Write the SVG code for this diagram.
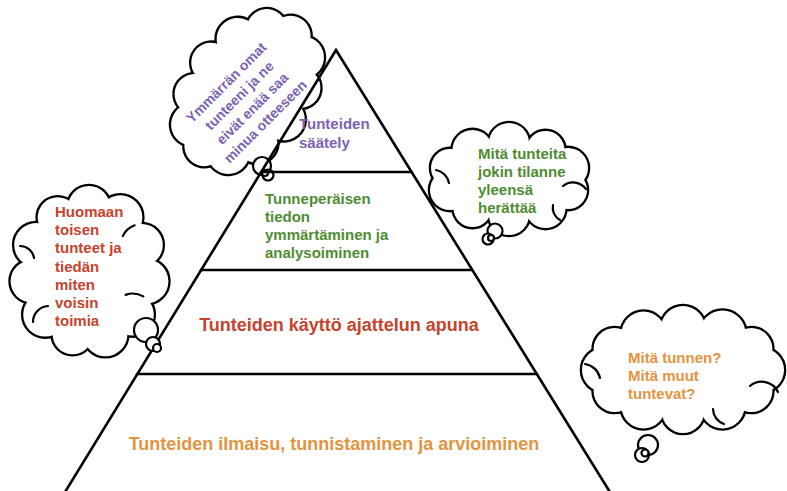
<svg xmlns="http://www.w3.org/2000/svg" width="787" height="491" viewBox="0 0 787 491">
<style>
.ol{fill:#fff;stroke:#000;stroke-width:4.6}
.fl{fill:#fff;stroke:none}
.ln{fill:none;stroke:#000;stroke-width:2.6;stroke-linecap:round}
.cu{fill:none;stroke:#000;stroke-width:2.2;stroke-linecap:round}
.tb{fill:#fff;stroke:#000;stroke-width:2.2}
text{font-family:"Liberation Sans",Arial,sans-serif;font-weight:bold}
.t15{font-size:15px}
.t14{font-size:14px}
.t18{font-size:18px}
.pu{fill:#7a63b3}
.gr{fill:#4e8c32}
.rd{fill:#c6432d}
.or{fill:#e4943f}
</style>
<defs>
<g id="c-left">
<circle cx="89" cy="207" r="21"/><circle cx="120.3" cy="217.3" r="22"/><circle cx="141.8" cy="245" r="21"/><circle cx="146.4" cy="281.3" r="22"/><circle cx="132.8" cy="314.6" r="21"/><circle cx="105.4" cy="334.3" r="22"/><circle cx="72.6" cy="334.3" r="20"/><circle cx="45.2" cy="314.6" r="22"/><circle cx="31.6" cy="281.3" r="21"/><circle cx="36.2" cy="245" r="22"/><circle cx="57.7" cy="217.3" r="20"/>
</g>
<g id="c-green">
<circle cx="509" cy="143" r="20"/><circle cx="545.5" cy="149.9" r="19"/><circle cx="568" cy="167.9" r="20"/><circle cx="568" cy="190.1" r="19"/><circle cx="545.5" cy="208.1" r="20"/><circle cx="509" cy="215" r="20"/><circle cx="472.5" cy="208.1" r="19"/><circle cx="450" cy="190.1" r="20"/><circle cx="450" cy="167.9" r="19"/><circle cx="472.5" cy="149.9" r="20"/>
</g>
<g id="c-orange">
<circle cx="683" cy="328" r="22"/><circle cx="722.5" cy="333.6" r="23"/><circle cx="751.4" cy="349" r="21"/><circle cx="762" cy="370" r="22"/><circle cx="751.4" cy="391" r="21"/><circle cx="722.5" cy="406.4" r="22"/><circle cx="683" cy="412" r="21"/><circle cx="643.5" cy="406.4" r="22"/><circle cx="614.6" cy="391" r="21"/><circle cx="604" cy="370" r="22"/><circle cx="614.6" cy="349" r="21"/><circle cx="643.5" cy="333.6" r="22"/>
</g>
<g id="c-purple">
<circle cx="0" cy="-46" r="20"/><circle cx="35" cy="-39.8" r="21"/><circle cx="60.6" cy="-23" r="20"/><circle cx="70" cy="0" r="20"/><circle cx="60.6" cy="23" r="21"/><circle cx="35" cy="39.8" r="20"/><circle cx="0" cy="46" r="21"/><circle cx="-35" cy="39.8" r="20"/><circle cx="-60.6" cy="23" r="21"/><circle cx="-70" cy="0" r="20"/><circle cx="-60.6" cy="-23" r="21"/><circle cx="-35" cy="-39.8" r="20"/>
</g>
</defs>

<g id="cloud-purple">
<g transform="translate(247.5,91) rotate(-52)">
<use href="#c-purple" class="ol"/>
<use href="#c-purple" class="fl"/>
<polygon class="fl" points="0,-46 35,-39.8 60.6,-23 70,0 60.6,23 35,39.8 0,46 -35,39.8 -60.6,23 -70,0 -60.6,-23 -35,-39.8"/>
</g>
<circle class="tb" cx="262" cy="166" r="9"/>
<circle class="tb" cx="268" cy="175" r="5.5"/>
<circle class="tb" cx="265" cy="173" r="3"/>
<g transform="translate(245,97) rotate(-45)" text-anchor="middle">
<text class="t14 pu" x="-3" y="-18.6">Ymmärrän omat</text>
<text class="t14 pu" x="-3" y="-0.2">tunteeni ja ne</text>
<text class="t14 pu" x="-3" y="18.2">eivät enää saa</text>
<text class="t14 pu" x="-3" y="36.6">minua otteeseen</text>
</g>
</g>

<g id="pyramid">
<polygon points="62,497 336,50 613,497" fill="none" stroke="#000" stroke-width="2.6" stroke-linejoin="miter"/>
<line class="ln" x1="261" y1="172" x2="411.5" y2="172"/>
<line class="ln" x1="201" y1="270" x2="472" y2="270"/>
<line class="ln" x1="137" y1="374" x2="537" y2="374"/>
</g>

<g id="level-4">
<text class="t15 pu" x="299" y="129">Tunteiden</text>
<text class="t15 pu" x="299" y="148">säätely</text>
</g>
<g id="level-3">
<text class="t15 gr" x="265" y="203.5">Tunneperäisen</text>
<text class="t15 gr" x="265" y="221.8">tiedon</text>
<text class="t15 gr" x="265" y="240.1">ymmärtäminen ja</text>
<text class="t15 gr" x="265" y="258.4">analysoiminen</text>
</g>
<g id="level-2">
<text class="t18 rd" x="339" y="331" text-anchor="middle">Tunteiden käyttö ajattelun apuna</text>
</g>
<g id="level-1">
<text class="t18 or" x="334" y="450" text-anchor="middle">Tunteiden ilmaisu, tunnistaminen ja arvioiminen</text>
</g>

<g id="cloud-left">
<use href="#c-left" class="ol"/>
<use href="#c-left" class="fl"/>
<polygon class="fl" points="89,207 120.3,217.3 141.8,245 146.4,281.3 132.8,314.6 105.4,334.3 72.6,334.3 45.2,314.6 31.6,281.3 36.2,245 57.7,217.3"/>
<path class="cu" d="M134.6,225.3 A21,21 0 0 0 122.8,236.1"/>
<path class="cu" d="M143.3,296.4 A21,21 0 0 0 125.6,294.9"/>
<path class="cu" d="M33,322 A16,16 0 0 1 48,306"/>
<path class="cu" d="M20,246 A14,14 0 0 1 34,258"/>
<circle class="tb" cx="146" cy="330" r="12"/>
<circle class="tb" cx="153" cy="344" r="7"/>
<circle class="tb" cx="157" cy="348" r="4"/>
<text class="t15 rd" x="55" y="217">Huomaan</text>
<text class="t15 rd" x="55" y="235.2">toisen</text>
<text class="t15 rd" x="55" y="253.3">tunteet ja</text>
<text class="t15 rd" x="55" y="271.5">tiedän</text>
<text class="t15 rd" x="55" y="289.7">miten</text>
<text class="t15 rd" x="55" y="307.8">voisin</text>
<text class="t15 rd" x="55" y="326">toimia</text>
</g>

<g id="cloud-green">
<use href="#c-green" class="ol"/>
<use href="#c-green" class="fl"/>
<polygon class="fl" points="509,143 545.5,149.9 568,167.9 568,190.1 545.5,208.1 509,215 472.5,208.1 450,190.1 450,167.9 472.5,149.9"/>
<path class="cu" d="M436,170 A16,16 0 0 1 449,183"/>
<path class="cu" d="M563,186 A16,16 0 0 1 586,189"/>
<path class="cu" d="M553,205 A14,14 0 0 0 560,220"/>
<circle class="tb" cx="495" cy="231" r="7.5"/>
<circle class="tb" cx="488" cy="239" r="5.5"/>
<circle class="tb" cx="491" cy="238" r="3"/>
<text class="t15 gr" x="478" y="158.5">Mitä tunteita</text>
<text class="t15 gr" x="478" y="176.8">jokin tilanne</text>
<text class="t15 gr" x="478" y="195.1">yleensä</text>
<text class="t15 gr" x="478" y="213.4">herättää</text>
</g>

<g id="cloud-orange">
<use href="#c-orange" class="ol"/>
<use href="#c-orange" class="fl"/>
<polygon class="fl" points="683,328 722.5,333.6 751.4,349 762,370 751.4,391 722.5,406.4 683,412 643.5,406.4 614.6,391 604,370 614.6,349 643.5,333.6"/>
<path class="cu" d="M750,386 A18,18 0 0 1 778,392"/>
<path class="cu" d="M585,364 A18,18 0 0 1 600,378"/>
<path class="cu" d="M713,409 A16,16 0 0 0 724,424"/>
<circle class="tb" cx="648" cy="445" r="10"/>
<circle class="tb" cx="642" cy="455" r="7"/>
<circle class="tb" cx="645" cy="453" r="3.5"/>
<text class="t15 or" x="628" y="363">Mitä tunnen?</text>
<text class="t15 or" x="628" y="381">Mitä muut</text>
<text class="t15 or" x="628" y="399">tuntevat?</text>
</g>
</svg>
